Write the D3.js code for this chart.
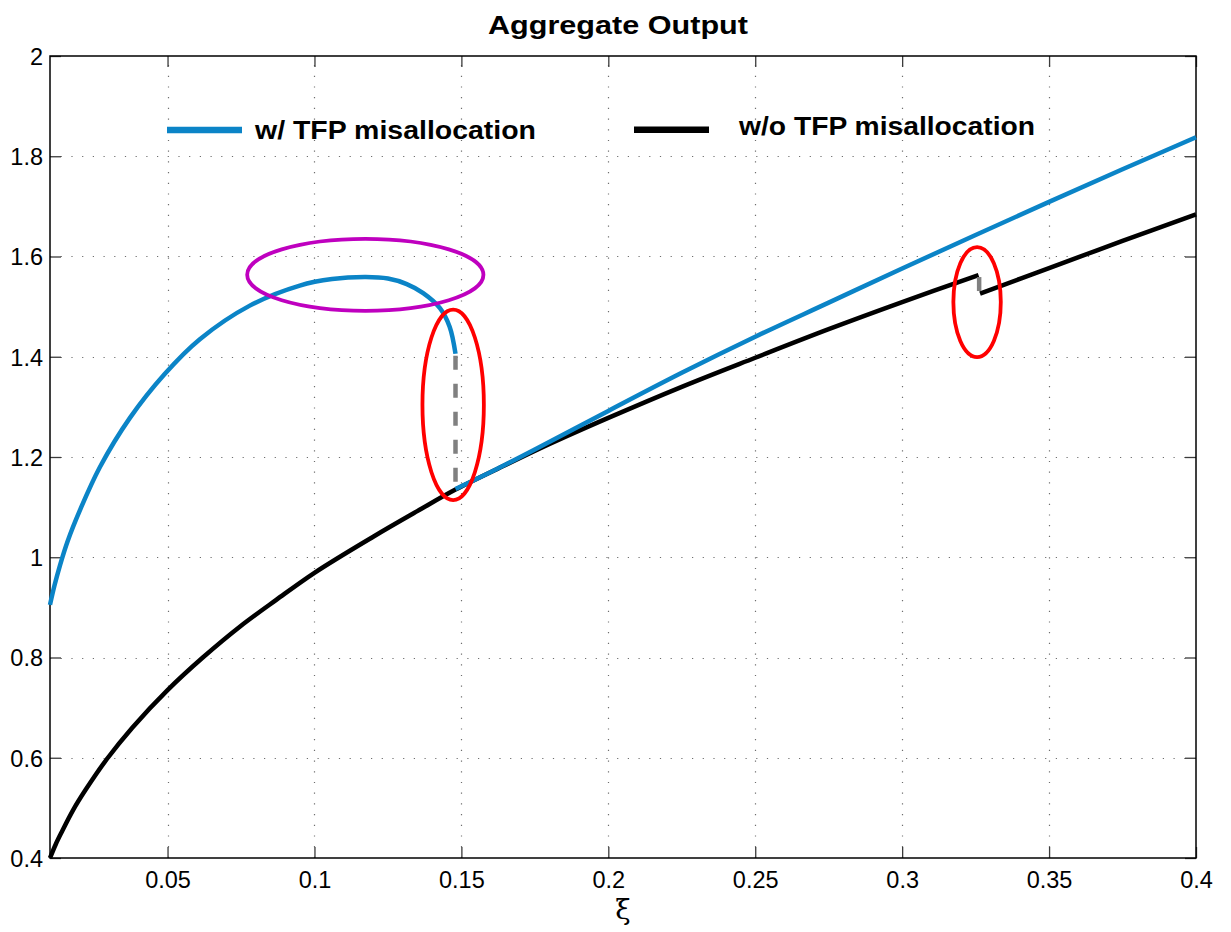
<!DOCTYPE html>
<html><head><meta charset="utf-8">
<script src="https://cdn.jsdelivr.net/npm/d3@7"></script>
<style>body{margin:0;background:#fff}svg{display:block}</style>
</head><body>
<script>
// ---------- data ----------
const chartTitle = "Aggregate Output";
const xLabel = "ξ";
const xDomain = [0.01, 0.4];
const yDomain = [0.4, 2];
const xTicks = [0.05, 0.1, 0.15, 0.2, 0.25, 0.3, 0.35, 0.4];
const xTickLabels = ["0.05", "0.1", "0.15", "0.2", "0.25", "0.3", "0.35", "0.4"];
const yTicks = [0.4, 0.6, 0.8, 1, 1.2, 1.4, 1.6, 1.8, 2];
const yTickLabels = ["0.4", "0.6", "0.8", "1", "1.2", "1.4", "1.6", "1.8", "2"];
const seriesNames = ["w/ TFP misallocation", "w/o TFP misallocation"];

// w/ TFP misallocation, upper branch
const withX1 = [0.0100, 0.0115, 0.0134, 0.0160, 0.0202, 0.0270, 0.0372, 0.0491, 0.0610, 0.0780, 0.0950, 0.1060, 0.1175, 0.1250, 0.1314, 0.1370, 0.1427, 0.1460, 0.1480];
const withY1 = [0.905, 0.943, 0.984, 1.032, 1.094, 1.180, 1.278, 1.366, 1.435, 1.502, 1.542, 1.555, 1.559, 1.556, 1.545, 1.527, 1.497, 1.460, 1.406];
// w/ TFP misallocation, lower branch
const withX2 = [0.148, 0.160, 0.175, 0.200, 0.225, 0.250, 0.275, 0.300, 0.325, 0.350, 0.375, 0.400];
const withY2 = [1.136, 1.170, 1.215, 1.292, 1.368, 1.440, 1.508, 1.576, 1.643, 1.709, 1.774, 1.838];
// w/o TFP misallocation, before and after the jump
const withoutX1 = [0.010, 0.012, 0.014, 0.0179, 0.022, 0.0293, 0.038, 0.050, 0.062, 0.0747, 0.087, 0.100, 0.120, 0.135, 0.148, 0.165, 0.180, 0.200, 0.225, 0.250, 0.275, 0.300, 0.326];
const withoutY1 = [0.400, 0.428, 0.452, 0.496, 0.535, 0.597, 0.660, 0.735, 0.800, 0.862, 0.915, 0.969, 1.041, 1.092, 1.135, 1.184, 1.226, 1.278, 1.340, 1.398, 1.455, 1.509, 1.563];
const withoutX2 = [0.3265, 0.350, 0.375, 0.400];
const withoutY2 = [1.526, 1.577, 1.631, 1.684];
// vertical jump connectors
const jumpX = [0.148, 0.3262];
const jumpYTop = [1.406, 1.563];
const jumpYBottom = [1.136, 1.526];
// annotation ellipses (data units): centre x, centre y, half-width, half-height
const ellCX = [0.1173, 0.1472, 0.3255];
const ellCY = [1.5635, 1.304, 1.509];
const ellRX = [0.0402, 0.01045, 0.00807];
const ellRY = [0.0718, 0.190, 0.1097];

// ---------- drawing ----------
const W = 1231, H = 932;
const L = 50, R = 1196, T = 56, B = 858;
const blue = "#0b84c7";
const ellColors = ["#bf00bf", "#ff0000", "#ff0000"];
const font = "'Liberation Sans', Arial, sans-serif";

const svg = d3.select("body").append("svg").attr("width", W).attr("height", H);
const x = d3.scaleLinear().domain(xDomain).range([L, R]);
const y = d3.scaleLinear().domain(yDomain).range([B, T]);

// grid
const grid = svg.append("g").attr("stroke", "#6e6e6e").attr("stroke-width", 1.2).attr("stroke-dasharray", "1.2,9.5");
grid.selectAll(".gx").data(xTicks.filter(v => v < xDomain[1])).enter().append("line")
  .attr("x1", d => Math.round(x(d)) + 0.5).attr("x2", d => Math.round(x(d)) + 0.5).attr("y1", B).attr("y2", T);
grid.selectAll(".gy").data(yTicks.filter(v => v > yDomain[0] && v < yDomain[1])).enter().append("line")
  .attr("y1", d => Math.round(y(d)) + 0.5).attr("y2", d => Math.round(y(d)) + 0.5).attr("x1", L).attr("x2", R);

// axes with inward ticks on all four sides
const tickLen = 11;
const axB = d3.axisBottom(x).tickValues(xTicks).tickSize(-tickLen).tickFormat((d, i) => xTickLabels[i]).tickPadding(13);
const axT = d3.axisTop(x).tickValues(xTicks).tickSize(-tickLen).tickFormat("");
const axLft = d3.axisLeft(y).tickValues(yTicks).tickSize(-tickLen).tickFormat((d, i) => yTickLabels[i]).tickPadding(7);
const axRgt = d3.axisRight(y).tickValues(yTicks).tickSize(-tickLen).tickFormat("");
function styleAxis(g) {
  g.select(".domain").remove();
  g.selectAll(".tick line").attr("stroke", "#3c3c3c").attr("stroke-width", 1.3);
  g.selectAll(".tick text").attr("font-family", font).attr("font-size", 23.5).attr("fill", "#000");
}
svg.append("g").attr("transform", `translate(0,${B})`).call(axB).call(styleAxis);
svg.append("g").attr("transform", `translate(0,${T})`).call(axT).call(styleAxis);
svg.append("g").attr("transform", `translate(${L},0)`).call(axLft).call(styleAxis)
  .selectAll(".tick text").attr("dy", "0.36em");
svg.append("g").attr("transform", `translate(${R},0)`).call(axRgt).call(styleAxis);

// frame
svg.append("rect").attr("x", L).attr("y", T).attr("width", R - L).attr("height", B - T)
  .attr("fill", "none").attr("stroke", "#000").attr("stroke-width", 1.5);

// lines
const line = d3.line().x(d => x(d[0])).y(d => y(d[1])).curve(d3.curveCatmullRom.alpha(0.5));
const zip = (a, b) => a.map((v, i) => [v, b[i]]);
const plot = svg.append("g");
plot.append("path").datum(zip(withoutX1, withoutY1)).attr("d", line).attr("fill", "none").attr("stroke", "#000").attr("stroke-width", 4.5);
plot.append("path").datum(zip(withoutX2, withoutY2)).attr("d", line).attr("fill", "none").attr("stroke", "#000").attr("stroke-width", 4.5);
plot.append("path").datum(zip(withX1, withY1)).attr("d", line).attr("fill", "none").attr("stroke", blue).attr("stroke-width", 4.5);
plot.append("path").datum(zip(withX2, withY2)).attr("d", line).attr("fill", "none").attr("stroke", blue).attr("stroke-width", 4.5);
plot.selectAll(".jump").data(jumpX).enter().append("line")
  .attr("x1", d => x(d)).attr("x2", d => x(d))
  .attr("y1", (d, i) => y(jumpYTop[i]) + 2).attr("y2", (d, i) => y(jumpYBottom[i]))
  .attr("stroke", "#808080").attr("stroke-width", 4.5).attr("stroke-dasharray", "14,14");

// annotation ellipses
svg.append("g").selectAll("ellipse").data(ellCX).enter().append("ellipse")
  .attr("cx", d => x(d)).attr("cy", (d, i) => y(ellCY[i]))
  .attr("rx", (d, i) => x(xDomain[0] + ellRX[i]) - x(xDomain[0]))
  .attr("ry", (d, i) => y(yDomain[0]) - y(yDomain[0] + ellRY[i]))
  .attr("fill", "none").attr("stroke", (d, i) => ellColors[i]).attr("stroke-width", 3.8);

// legend
const legY = [130, 129.7];
const legX1 = [167, 634];
const legX2 = [242, 709];
const legTextX = [255, 739];
const legTextBase = [139, 135];
const legW = [281, 296];
const legColors = [blue, "#000"];
seriesNames.forEach((n, i) => {
  svg.append("line").attr("x1", legX1[i]).attr("x2", legX2[i]).attr("y1", legY[i]).attr("y2", legY[i])
    .attr("stroke", legColors[i]).attr("stroke-width", 6.5);
  svg.append("text").attr("x", legTextX[i]).attr("y", legTextBase[i]).text(n)
    .attr("font-family", font).attr("font-weight", "bold").attr("font-size", 25.5)
    .attr("textLength", legW[i]).attr("lengthAdjust", "spacingAndGlyphs");
});

// title & x label
svg.append("text").attr("x", 618).attr("y", 34).attr("text-anchor", "middle").text(chartTitle)
  .attr("font-family", font).attr("font-weight", "bold").attr("font-size", 25.5)
  .attr("textLength", 260).attr("lengthAdjust", "spacingAndGlyphs");
svg.append("text").attr("x", 623).attr("y", 919).attr("text-anchor", "middle").text(xLabel)
  .attr("font-family", "'DejaVu Serif', 'Liberation Serif', serif").attr("font-size", 28);
</script>
</body></html>
